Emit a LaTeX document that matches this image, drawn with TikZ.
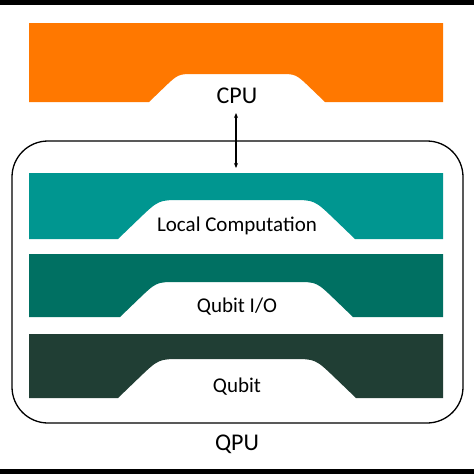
\documentclass[tikz,border=0pt]{standalone}
\usepackage{fontspec}
\setmainfont{Carlito}
\usetikzlibrary{arrows.meta}
\definecolor{cpuorange}{RGB}{255,120,0}
\definecolor{lcteal}{RGB}{0,150,144}
\definecolor{ioteal}{RGB}{0,112,98}
\definecolor{qdark}{RGB}{32,62,52}
\newcommand{\bannershape}[6]{% fill, ytop, ybot, ybump, xl, xr
  \pgfmathsetmacro{\bh}{#3-#4}%
  \pgfmathsetmacro{\bd}{1.3*\bh}%
  \fill[#1] (29,#2) -- (443,#2) -- (443,#3) -- (#6,#3)
    -- ({#6-0.4*\bd},{#3-0.5*\bh}) .. controls ({#6-0.8*\bd},#4) .. ({#6-1.25*\bd},#4)
    -- ({#5+1.25*\bd},#4) .. controls ({#5+0.8*\bd},#4) .. ({#5+0.4*\bd},{#3-0.5*\bh})
    -- (#5,#3) -- (29,#3) -- cycle;}
\tikzset{
  lbl/.style={anchor=base, inner sep=0pt, text=black},
  big/.style={font=\fontsize{24}{28}\selectfont},
  small/.style={font=\fontsize{21}{25}\selectfont},
  link/.style={{Stealth[length=5pt,width=4pt]}-{Stealth[length=5pt,width=4pt]}, line width=1.1pt},
  qpubox/.style={draw=black, line width=1.3pt, rounded corners=36pt}
}
\begin{document}
\begin{tikzpicture}[x=1pt,y=-1pt]
\useasboundingbox (0,0) rectangle (474,474);
\fill[white] (0,0) rectangle (474,474);
\fill[black] (0,0) rectangle (474,4.5);
\fill[black] (0,469) rectangle (474,474);
% QPU frame
\draw[qpubox] (12,141) rectangle (463,423);
% banners
\bannershape{cpuorange}{23}{102}{74}{149}{325}
\bannershape{lcteal}{173}{239}{200}{118}{355}
\bannershape{ioteal}{254}{317}{282}{120}{353}
\bannershape{qdark}{334}{398}{359}{118}{356}
% labels
\node[lbl,big] (cpu) at (237,103) {CPU};
\node[lbl,small] (lc) at (237,231) {Local Computation};
\node[lbl,small] (io) at (237,312) {Qubit I/O};
\node[lbl,small] (qb) at (237,392) {Qubit};
\node[lbl,big] (qpu) at (237,450) {QPU};
% link
\coordinate (cpuport) at (236,113);
\coordinate (qpuport) at (236,168);
\draw[link] (cpuport) -- (qpuport);
\end{tikzpicture}
\end{document}
